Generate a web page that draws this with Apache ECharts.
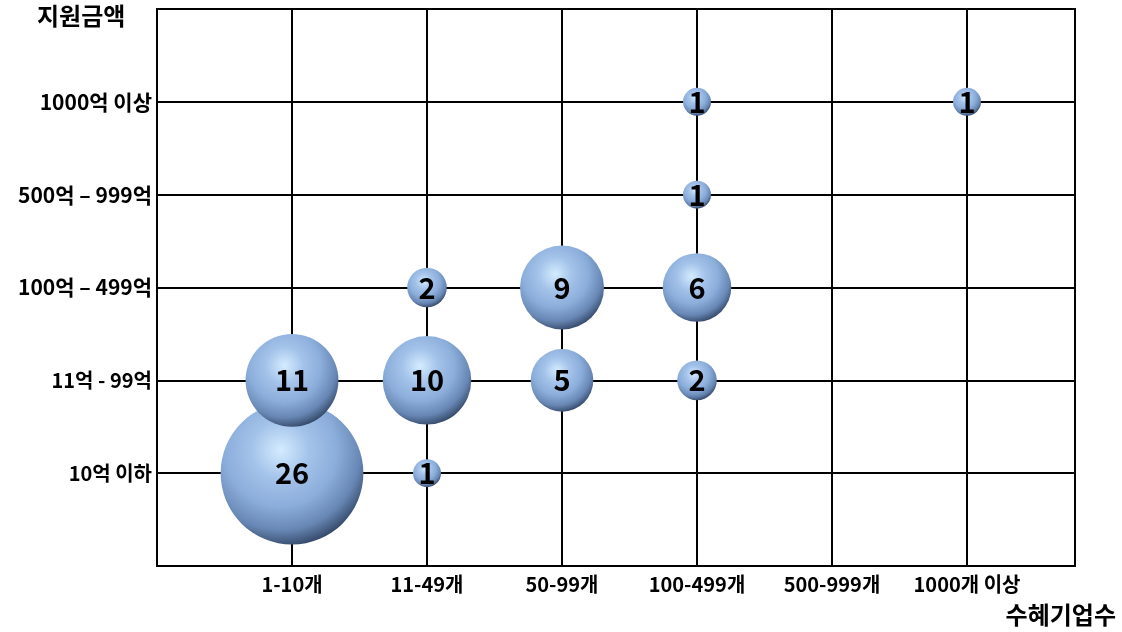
<!DOCTYPE html>
<html>
<head>
<meta charset="utf-8">
<script src="https://cdn.jsdelivr.net/npm/echarts@6/dist/echarts.min.js"></script>
<style>
  html, body { margin: 0; padding: 0; background: #fff; }
  #chart { width: 1122px; height: 632px; }
</style>
</head>
<body>
<div id="chart"></div>
<script>
// 수혜기업수 구간 (x) and 지원금액 구간 (y)
const xCategories = ['1-10개', '11-49개', '50-99개', '100-499개', '500-999개', '1000개 이상'];
const yCategories = ['10억 이하', '11억 - 99억', '100억 – 499억', '500억 – 999억', '1000억 이상'];

// bubbles: x index, y index (1-based), count — larger ones first so smaller sit on top
const bubbleX = [1, 1, 2, 3, 4, 3, 2, 4, 2, 4, 4, 6];
const bubbleY = [1, 2, 2, 3, 3, 2, 3, 2, 1, 4, 5, 5];
const bubbleCount = [26, 11, 10, 9, 6, 5, 2, 2, 1, 1, 1, 1];

const FONT = '"Noto Sans CJK KR", "Noto Sans", sans-serif';

const data = bubbleX.map((x, i) => [x, bubbleY[i], bubbleCount[i]]);

// shaded sphere fill
const sphere = {
  type: 'radial', x: 0.42, y: 0.34, r: 0.72,
  colorStops: [
    { offset: 0, color: '#d4ecff' },
    { offset: 0.28, color: '#a4c3ea' },
    { offset: 0.55, color: '#8badda' },
    { offset: 0.78, color: '#6786b3' },
    { offset: 0.92, color: '#3c5274' },
    { offset: 1, color: '#1c2738' }
  ]
};

const chart = echarts.init(document.getElementById('chart'), null, { renderer: 'canvas' });
chart.setOption({
  animation: false,
  grid: {
    left: 157, right: 47, top: 9, bottom: 66,
    show: true, borderColor: '#000', borderWidth: 2, backgroundColor: 'transparent'
  },
  xAxis: {
    type: 'value', min: 0, max: 6.8, interval: 1,
    axisLine: { show: true, lineStyle: { color: '#000', width: 2 } },
    axisTick: { show: false },
    splitLine: { show: true, lineStyle: { color: '#000', width: 2 } },
    axisLabel: {
      margin: 8, color: '#000', fontFamily: FONT, fontWeight: 'bold', fontSize: 20,
      showMaxLabel: false,
      formatter: v => (v >= 1 && v <= 6 && Number.isInteger(v)) ? xCategories[v - 1] : ''
    }
  },
  yAxis: {
    type: 'value', min: 0, max: 6, interval: 1,
    axisLine: { show: true, lineStyle: { color: '#000', width: 2 } },
    axisTick: { show: false },
    splitLine: { show: true, lineStyle: { color: '#000', width: 2 } },
    axisLabel: {
      margin: 5, color: '#000', fontFamily: FONT, fontWeight: 'bold',
      formatter: v => {
        if (v < 1 || v > 5) return '';
        const t = yCategories[v - 1];
        return v <= 2 ? '{s|' + t + '}' : '{b|' + t + '}';
      },
      rich: {
        b: { fontSize: 21, fontWeight: 'bold', fontFamily: FONT, color: '#000' },
        s: { fontSize: 20, fontWeight: 'bold', fontFamily: FONT, color: '#000' }
      }
    }
  },
  graphic: [
    { type: 'text', left: 37, top: 4, style: { text: '지원금액', fontFamily: FONT, fontWeight: 'bold', fontSize: 24, fill: '#000' } },
    { type: 'text', right: 6, top: 603, style: { text: '수혜기업수', fontFamily: FONT, fontWeight: 'bold', fontSize: 24, fill: '#000' } }
  ],
  series: [{
    type: 'scatter',
    data: data,
    symbol: 'circle',
    symbolSize: d => 28 * Math.sqrt(d[2]),
    itemStyle: { color: sphere, opacity: 1 },
    label: {
      show: true, position: 'inside',
      formatter: p => p.value[2],
      color: '#000', fontFamily: FONT, fontWeight: 'bold', fontSize: 29
    },
    z: 5
  }]
});
</script>
</body>
</html>
